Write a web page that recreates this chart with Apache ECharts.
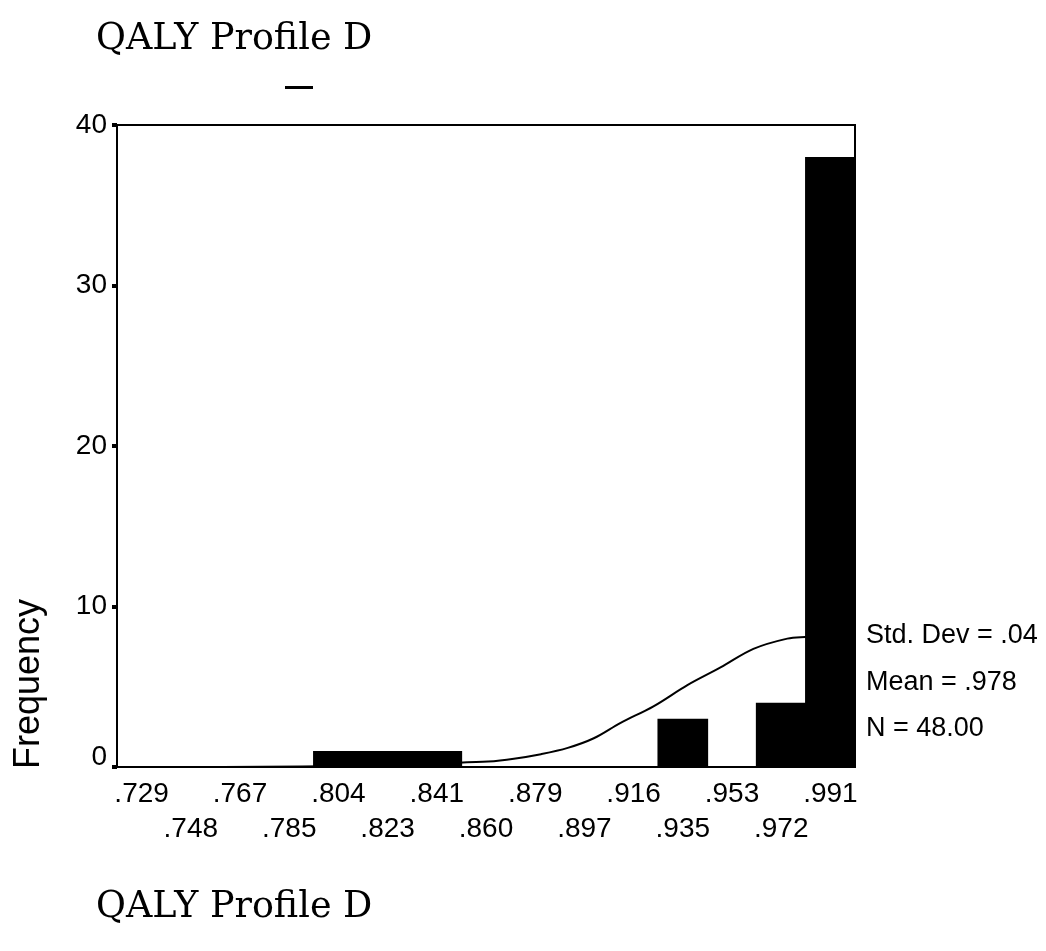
<!DOCTYPE html>
<html>
<head>
<meta charset="utf-8">
<script src="https://cdn.jsdelivr.net/npm/echarts@6/dist/echarts.min.js"></script>
<style>
  html, body { margin: 0; padding: 0; background: #fff; }
  #chart { width: 1046px; height: 951px; }
</style>
</head>
<body>
<div id="chart"></div>
<script>
// Histogram bins (bin midpoints) and their counts
const binLabels = ['.729', '.748', '.767', '.785', '.804', '.823', '.841', '.860',
                   '.879', '.897', '.916', '.935', '.953', '.972', '.991'];
const frequencies = [0, 0, 0, 0, 1, 1, 1, 0, 0, 0, 0, 3, 0, 4, 38];

// Fitted normal curve, sampled as [QALY value, frequency]
const curveX = [0.7196, 0.760, 0.790, 0.820, 0.845, 0.8528, 0.8608, 0.8706, 0.8809,
                0.8911, 0.9010, 0.9112, 0.9237, 0.9366, 0.9492, 0.9617, 0.9746,
                0.9814, 0.9900];
const curveY = [0.0, 0.0, 0.03, 0.1, 0.22, 0.3, 0.34, 0.52, 0.8,
                1.19, 1.79, 2.75, 3.78, 5.1, 6.2, 7.36, 8.0,
                8.1, 8.15];

// Summary statistics
const statLines = ['Std. Dev = .04', 'Mean = .978', 'N = 48.00'];
const titleText = 'QALY Profile D';
const yAxisTitle = 'Frequency';

const sans = '"Liberation Sans", Arial, sans-serif';
const serif = '"DejaVu Serif", serif';

// value range covering the full width of the bins
const firstMid = parseFloat(binLabels[0]);
const lastMid = parseFloat(binLabels[binLabels.length - 1]);
const binW = (lastMid - firstMid) / (binLabels.length - 1);

const chart = echarts.init(document.getElementById('chart'));
chart.setOption({
  animation: false,
  backgroundColor: '#fff',
  grid: {
    left: 117, top: 125, right: 191, bottom: 184,
    show: true, borderColor: '#000', borderWidth: 2, backgroundColor: 'transparent'
  },
  xAxis: [{
    type: 'category',
    data: binLabels,
    boundaryGap: true,
    axisLine: { lineStyle: { color: '#000', width: 2 } },
    axisTick: { alignWithLabel: true, length: 3, lineStyle: { color: '#000', width: 6 } },
    axisLabel: {
      interval: 0,
      margin: 10,
      color: '#000',
      fontFamily: sans,
      fontSize: 28,
      lineHeight: 35,
      formatter: (v, i) => (i % 2 ? '\n' + v : v)
    }
  }, {
    type: 'value',
    min: firstMid - binW / 2,
    max: lastMid + binW / 2,
    show: false
  }],
  yAxis: {
    type: 'value',
    min: 0, max: 40, interval: 10,
    splitLine: { show: false },
    axisLine: { show: true, lineStyle: { color: '#000', width: 2 } },
    axisTick: { show: true, length: 5, lineStyle: { color: '#000', width: 4 } },
    axisLabel: {
      color: '#000', fontFamily: sans, fontSize: 28, margin: 10,
      formatter: v => (v === 0 ? '{z|0}' : String(v)),
      rich: { z: { fontFamily: sans, fontSize: 28, color: '#000', padding: [0, 0, 20, 0] } }
    }
  },
  series: [{
    type: 'line',
    xAxisIndex: 1,
    data: curveX.map((x, i) => [x, curveY[i]]),
    smooth: 0.35,
    symbol: 'none',
    lineStyle: { color: '#000', width: 2 },
    z: 2
  }, {
    type: 'bar',
    xAxisIndex: 0,
    data: frequencies,
    barWidth: '103%',
    barGap: '-100%',
    itemStyle: { color: '#000' },
    z: 3
  }],
  graphic: [
    { type: 'text', left: 96, top: 21,
      style: { text: titleText, font: '36.5px ' + serif, fill: '#000' } },
    { type: 'rect', shape: { x: 285, y: 86, width: 28, height: 3 }, style: { fill: '#000' } },
    { type: 'text', x: 29, y: 684, rotation: Math.PI / 2,
      style: { text: yAxisTitle, font: '36px ' + sans, fill: '#000',
               align: 'center', verticalAlign: 'middle' } },
    { type: 'text', left: 866, top: 622,
      style: { text: statLines[0], font: '27px ' + sans, fill: '#000' } },
    { type: 'text', left: 866, top: 669,
      style: { text: statLines[1], font: '27px ' + sans, fill: '#000' } },
    { type: 'text', left: 866, top: 715,
      style: { text: statLines[2], font: '27px ' + sans, fill: '#000' } },
    { type: 'text', left: 96, top: 889,
      style: { text: titleText, font: '36.5px ' + serif, fill: '#000' } }
  ]
});
</script>
</body>
</html>
